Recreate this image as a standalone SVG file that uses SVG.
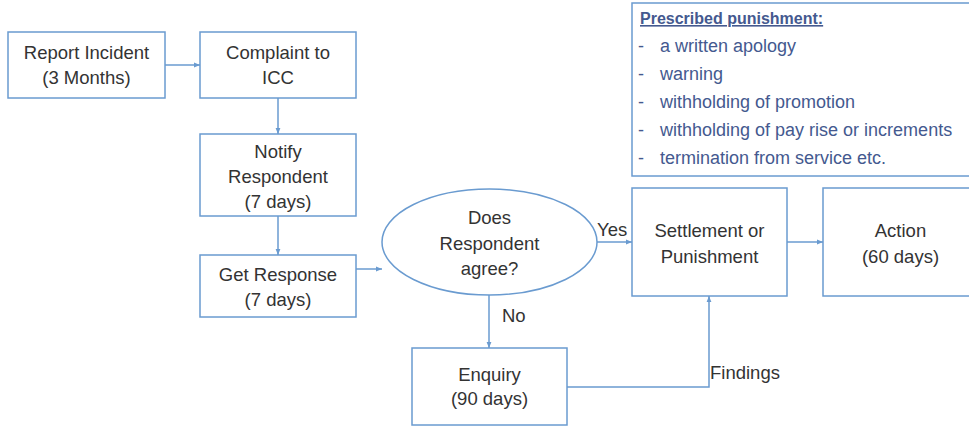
<svg xmlns="http://www.w3.org/2000/svg" width="969" height="426" viewBox="0 0 969 426">
<defs>
<marker id="ah" viewBox="0 0 10 10" refX="10" refY="5" markerWidth="6" markerHeight="6" orient="auto" markerUnits="userSpaceOnUse">
<path d="M0,1 L10,5 L0,9 Z" fill="#6a9bd0"/>
</marker>
<style>
.box{fill:#ffffff;stroke:#6a9bd0;stroke-width:1.5}
.t{font-family:"Liberation Sans",Arial,sans-serif;font-size:18.5px;fill:#333333;text-anchor:middle}
.lbl{font-family:"Liberation Sans",Arial,sans-serif;font-size:18.5px;fill:#333333}
.c{fill:none;stroke:#6a9bd0;stroke-width:1.5;marker-end:url(#ah)}
.p{font-family:"Liberation Sans",Arial,sans-serif;font-size:18px;fill:#44598f}
.ph{font-family:"Liberation Sans",Arial,sans-serif;font-size:16px;font-weight:bold;text-decoration:underline;fill:#44598f}
</style>
</defs>
<rect width="969" height="426" fill="#ffffff"/>
<g id="connectors">
<line class="c" x1="165" y1="65" x2="200" y2="65"/>
<line class="c" x1="278" y1="98" x2="278" y2="134"/>
<line class="c" x1="278" y1="216" x2="278" y2="255"/>
<line class="c" x1="356" y1="269" x2="382" y2="269"/>
<line class="c" x1="597" y1="242" x2="632" y2="242"/>
<line class="c" x1="787" y1="242" x2="823" y2="242"/>
<line class="c" x1="489" y1="295" x2="489" y2="348"/>
<polyline class="c" points="567,387 709,387 709,296"/>
<text class="lbl" x="597" y="236">Yes</text>
<text class="lbl" x="502" y="322">No</text>
<text class="lbl" x="710" y="379">Findings</text>
</g>
<g id="report">
<rect class="box" x="8" y="32" width="157" height="66"/>
<text class="t" x="86.5" y="59">Report Incident</text>
<text class="t" x="86.5" y="84">(3 Months)</text>
</g>
<g id="complaint">
<rect class="box" x="200" y="32" width="156" height="66"/>
<text class="t" x="278" y="59">Complaint to</text>
<text class="t" x="278" y="84">ICC</text>
</g>
<g id="notify">
<rect class="box" x="200" y="134" width="156" height="82"/>
<text class="t" x="278" y="158">Notify</text>
<text class="t" x="278" y="183">Respondent</text>
<text class="t" x="278" y="208">(7 days)</text>
</g>
<g id="response">
<rect class="box" x="200" y="255" width="156" height="62"/>
<text class="t" x="278" y="281">Get Response</text>
<text class="t" x="278" y="306">(7 days)</text>
</g>
<g id="decision">
<ellipse class="box" cx="489.5" cy="242" rx="107.5" ry="53"/>
<text class="t" x="489.5" y="224">Does</text>
<text class="t" x="489.5" y="250">Respondent</text>
<text class="t" x="489.5" y="275">agree?</text>
</g>
<g id="enquiry">
<rect class="box" x="412" y="348" width="155" height="77"/>
<text class="t" x="489.5" y="381">Enquiry</text>
<text class="t" x="489.5" y="405">(90 days)</text>
</g>
<g id="settlement">
<rect class="box" x="632" y="188" width="155" height="108"/>
<text class="t" x="709.5" y="237">Settlement or</text>
<text class="t" x="709.5" y="263">Punishment</text>
</g>
<g id="action">
<rect class="box" x="823" y="188" width="155" height="108"/>
<text class="t" x="900.5" y="237">Action</text>
<text class="t" x="900.5" y="263">(60 days)</text>
</g>
<g id="punishment">
<rect class="box" x="632" y="3" width="345" height="173"/>
<text class="ph" x="640" y="24">Prescribed punishment:</text>
<text class="p" x="638" y="52">-</text><text class="p" x="660" y="52">a written apology</text>
<text class="p" x="638" y="80">-</text><text class="p" x="660" y="80">warning</text>
<text class="p" x="638" y="108">-</text><text class="p" x="660" y="108">withholding of promotion</text>
<text class="p" x="638" y="136">-</text><text class="p" x="660" y="136">withholding of pay rise or increments</text>
<text class="p" x="638" y="164">-</text><text class="p" x="660" y="164">termination from service etc.</text>
</g>
</svg>
